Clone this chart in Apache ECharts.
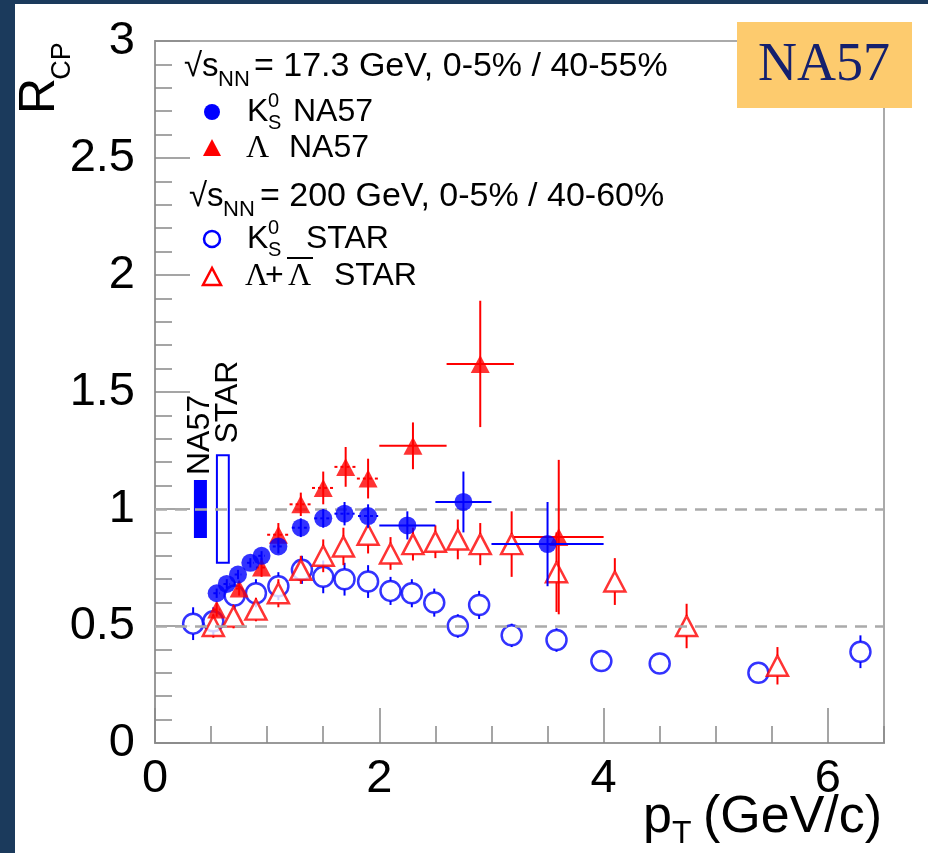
<!DOCTYPE html>
<html>
<head>
<meta charset="utf-8">
<script src="https://cdn.jsdelivr.net/npm/echarts@6/dist/echarts.min.js"></script>
<style>
  html, body { margin: 0; padding: 0; background: #fff; }
  #chart { width: 928px; height: 853px; }
</style>
</head>
<body>
<div id="chart"></div>
<script>
// R_CP vs pT, NA57 (17.3 GeV) and STAR (200 GeV)
const xTicks = [0, 2, 4, 6]
const yTicks = [0, 0.5, 1, 1.5, 2, 2.5, 3]

// K0s NA57, filled blue circles
const k0naX  = [0.55, 0.64, 0.74, 0.85, 0.95, 1.10, 1.30, 1.50, 1.69, 1.90, 2.25, 2.75, 3.50]
const k0naY  = [0.64, 0.68, 0.72, 0.77, 0.80, 0.84, 0.92, 0.96, 0.98, 0.97, 0.93, 1.03, 0.85]
const k0naEx = [0.03, 0.03, 0.03, 0.03, 0.03, 0.05, 0.08, 0.08, 0.09, 0.09, 0.25, 0.25, 0.50]
const k0naEy = [0.02, 0.02, 0.02, 0.02, 0.02, 0.03, 0.04, 0.04, 0.05, 0.05, 0.06, 0.13, 0.18]

// Lambda NA57, filled red triangles
const lanaX  = [0.55, 0.75, 0.95, 1.10, 1.30, 1.50, 1.70, 1.90, 2.30, 2.90, 3.60]
const lanaY  = [0.57, 0.66, 0.75, 0.89, 1.02, 1.09, 1.18, 1.13, 1.27, 1.62, 0.88]
const lanaEx = [0.03, 0.03, 0.05, 0.10, 0.10, 0.10, 0.10, 0.10, 0.30, 0.30, 0.40]
const lanaEy = [0.03, 0.03, 0.04, 0.05, 0.05, 0.07, 0.085, 0.085, 0.10, 0.27, 0.33]

// K0s STAR, open blue circles
const k0stX  = [0.34, 0.52, 0.71, 0.90, 1.10, 1.31, 1.50, 1.69, 1.90, 2.10, 2.29, 2.49, 2.70, 2.89, 3.18, 3.58, 3.98, 4.50, 5.38, 6.29]
const k0stY  = [0.51, 0.52, 0.63, 0.64, 0.67, 0.74, 0.71, 0.70, 0.69, 0.65, 0.64, 0.60, 0.50, 0.59, 0.46, 0.44, 0.35, 0.34, 0.30, 0.39]
const k0stEy = [0.07, 0.06, 0.06, 0.06, 0.06, 0.06, 0.07, 0.07, 0.07, 0.06, 0.06, 0.06, 0.05, 0.06, 0.05, 0.05, 0.04, 0.035, 0.03, 0.07]

// Lambda+antiLambda STAR, open red triangles
const lastX  = [0.52, 0.70, 0.90, 1.10, 1.30, 1.50, 1.68, 1.90, 2.10, 2.30, 2.50, 2.70, 2.90, 3.18, 3.58, 4.10, 4.74, 5.55]
const lastY  = [0.50, 0.54, 0.57, 0.64, 0.74, 0.80, 0.84, 0.89, 0.81, 0.85, 0.86, 0.87, 0.85, 0.85, 0.73, 0.69, 0.50, 0.33]
const lastEy = [0.05, 0.05, 0.05, 0.06, 0.06, 0.07, 0.08, 0.08, 0.07, 0.07, 0.07, 0.085, 0.09, 0.14, 0.17, 0.10, 0.095, 0.08]

// normalisation uncertainty boxes at R_CP = 1
const sysX  = [0.405, 0.605]
const sysDx = [0.058, 0.053]
const sysDy = [0.124, 0.23]

const refLines = [1, 0.5]

const FONT = '"Liberation Sans", Arial, sans-serif'
const SERIF = '"Liberation Serif", "DejaVu Serif", serif'
const BLUE = '#0000ff'
const RED = '#ff0000'

// gap: half size in px of an open marker, so the bar stops at its edge
function errBars(xs, ys, exs, eys, color, z, gap) {
  gap = gap || 0
  return {
    type: 'custom',
    silent: true,
    z: z,
    data: xs.map((x, i) => [x, ys[i], exs ? exs[i] : 0, eys[i]]),
    encode: { x: 0, y: 1 },
    renderItem: function (params, api) {
      const x = api.value(0), y = api.value(1), ex = api.value(2), ey = api.value(3)
      const c = api.coord([x, y])
      const t = api.coord([x, y + ey])
      const b = api.coord([x, y - ey])
      const st = { stroke: color, lineWidth: 2 }
      const kids = []
      if (gap > 0) {
        if (c[1] - t[1] > gap) kids.push({ type: 'line', shape: { x1: c[0], y1: t[1], x2: c[0], y2: c[1] - gap }, style: st })
        if (b[1] - c[1] > gap) kids.push({ type: 'line', shape: { x1: c[0], y1: c[1] + gap, x2: c[0], y2: b[1] }, style: st })
      } else {
        kids.push({ type: 'line', shape: { x1: c[0], y1: t[1], x2: c[0], y2: b[1] }, style: st })
      }
      if (ex > 0) {
        const l = api.coord([x - ex, y])
        const r = api.coord([x + ex, y])
        kids.push({ type: 'line', shape: { x1: l[0], y1: c[1], x2: r[0], y2: c[1] },
          style: ex <= 0.1 ? { stroke: color, lineWidth: 2, lineDash: [3, 3] } : st })
      }
      return { type: 'group', children: kids }
    }
  }
}

function markers(xs, ys, symbol, size, itemStyle, z) {
  return {
    type: 'scatter',
    silent: true,
    z: z,
    symbol: symbol,
    symbolSize: size,
    itemStyle: itemStyle,
    data: xs.map((x, i) => [x, ys[i]])
  }
}

function txt(x, y, s, size, opt) {
  opt = opt || {}
  return {
    type: 'text', x: x, y: y, rotation: opt.rot || 0, z: 100,
    style: {
      text: s, fontSize: size, fontFamily: opt.family || FONT, fill: opt.fill || '#000',
      align: opt.align || 'left', verticalAlign: 'middle',
      textAlign: opt.align || 'left', textVerticalAlign: 'middle'
    }
  }
}

const chart = echarts.init(document.getElementById('chart'))

const legend = [
  // header 1
  txt(184, 67, '\u221As', 33), txt(218, 80, 'NN', 22), txt(254, 67, '= 17.3 GeV, 0-5% / 40-55%', 34),
  { type: 'circle', shape: { cx: 212, cy: 112, r: 8 }, style: { fill: BLUE }, z: 100 },
  txt(247, 112, 'K', 32), txt(268, 101, '0', 20), txt(268, 123, 'S', 20), txt(293, 112, 'NA57', 32),
  { type: 'polygon', shape: { points: [[212, 139], [203, 156], [221, 156]] }, style: { fill: RED }, z: 100 },
  txt(246, 149, '\u039B', 32, { family: SERIF }), txt(289, 148, 'NA57', 32),
  // header 2
  txt(189, 197, '\u221As', 33), txt(223, 210, 'NN', 22), txt(260, 197, '= 200 GeV, 0-5% / 40-60%', 34),
  { type: 'circle', shape: { cx: 212, cy: 239, r: 8 }, style: { fill: '#fff', stroke: BLUE, lineWidth: 2.5 }, z: 100 },
  txt(247, 239, 'K', 32), txt(268, 228, '0', 20), txt(268, 250, 'S', 20), txt(306, 239, 'STAR', 32),
  { type: 'polygon', shape: { points: [[212, 268], [203, 285], [221, 285]] }, style: { fill: '#fff', stroke: RED, lineWidth: 2.5 }, z: 100 },
  txt(245, 277, '\u039B', 32, { family: SERIF }), txt(265, 276, '+', 32),
  txt(288, 277, '\u039B', 32, { family: SERIF }),
  { type: 'line', shape: { x1: 287, y1: 258, x2: 313, y2: 258 }, style: { stroke: '#000', lineWidth: 2 }, z: 100 },
  txt(334, 276, 'STAR', 32)
]

const option = {
  backgroundColor: '#fff',
  animation: false,
  grid: {
    left: 155, top: 41, right: 44, bottom: 110,
    show: true, borderColor: '#aaa', borderWidth: 2, backgroundColor: 'transparent'
  },
  xAxis: [
    {
      type: 'value', min: 0, max: 6.5, interval: 2,
      axisLine: { show: true, lineStyle: { color: '#999', width: 2 } },
      axisTick: { show: true, inside: true, length: 35, lineStyle: { color: '#888', width: 1.5 } },
      axisLabel: {
        show: true, margin: 13, color: '#000', fontSize: 47, fontFamily: FONT,
        showMaxLabel: false,
        formatter: v => (xTicks.indexOf(v) >= 0 ? String(v) : '')
      },
      splitLine: { show: false }
    },
    {
      type: 'value', min: 0, max: 6.5, interval: 0.5, position: 'bottom',
      axisLine: { show: false },
      axisTick: { show: true, inside: true, length: 17, lineStyle: { color: '#888', width: 1.5 } },
      axisLabel: { show: false },
      splitLine: { show: false }
    }
  ],
  yAxis: {
    type: 'value', min: 0, max: 3, interval: 0.5,
    axisLine: { show: true, lineStyle: { color: '#999', width: 2 } },
    axisTick: { show: true, inside: true, length: 35, lineStyle: { color: '#888', width: 1.5 } },
    minorTick: { show: true, splitNumber: 5, length: 17, lineStyle: { color: '#888', width: 1.5 } },
    axisLabel: {
      show: true, margin: 20, color: '#000', fontSize: 47, fontFamily: FONT,
      formatter: v => (yTicks.indexOf(v) >= 0 ? String(v) : '')
    },
    splitLine: { show: false }
  },
  graphic: [
    { type: 'rect', shape: { x: 0, y: 0, width: 15, height: 853 }, style: { fill: '#1b3a5c' }, z: 100 },
    { type: 'rect', shape: { x: 0, y: 0, width: 928, height: 4 }, style: { fill: '#1b3a5c' }, z: 100 },
    { type: 'rect', shape: { x: 737, y: 22, width: 175, height: 86 }, style: { fill: '#fdcb6e' }, z: 100 },
    txt(824, 66, 'NA57', 54, { family: SERIF, fill: '#14206e', align: 'center' }),
    // axis titles
    txt(40, 96, 'R', 50, { rot: Math.PI / 2, align: 'center' }),
    txt(63, 61, 'CP', 27, { rot: Math.PI / 2, align: 'center' }),
    txt(643, 818, 'p', 52), txt(672, 834, 'T', 32), txt(703, 818, '(GeV/c)', 52),
    // box labels
    txt(200, 435, 'NA57', 32, { rot: Math.PI / 2, align: 'center' }),
    txt(228, 402, 'STAR', 32, { rot: Math.PI / 2, align: 'center' })
  ].concat(legend),
  series: [
    {
      type: 'custom', silent: true, z: 2,
      data: sysX.map((x, i) => [x, 1, sysDx[i], sysDy[i], i]),
      encode: { x: 0, y: 1 },
      renderItem: function (params, api) {
        const x = api.value(0), y = api.value(1), dx = api.value(2), dy = api.value(3)
        const p0 = api.coord([x - dx, y + dy])
        const p1 = api.coord([x + dx, y - dy])
        const filled = api.value(4) === 0
        return {
          type: 'rect',
          shape: { x: p0[0], y: p0[1], width: p1[0] - p0[0], height: p1[1] - p0[1] },
          style: filled ? { fill: BLUE } : { fill: '#fff', stroke: BLUE, lineWidth: 2 }
        }
      },
      markLine: {
        silent: true, symbol: 'none', label: { show: false },
        lineStyle: { color: '#aaa', type: [12, 8], width: 2.5 },
        data: refLines.map(v => ({ yAxis: v }))
      }
    },
    errBars(k0stX, k0stY, null, k0stEy, BLUE, 3, 10),
    markers(k0stX, k0stY, 'circle', 20, { color: '#fff', borderColor: BLUE, borderWidth: 2.5 }, 3.5),
    errBars(lastX, lastY, null, lastEy, RED, 4, 10),
    markers(lastX, lastY, 'triangle', [21, 20], { color: '#fff', borderColor: RED, borderWidth: 2.5 }, 4.5),
    errBars(lanaX, lanaY, lanaEx, lanaEy, RED, 5),
    markers(lanaX, lanaY, 'triangle', [19, 18], { color: RED }, 5.5),
    errBars(k0naX, k0naY, k0naEx, k0naEy, BLUE, 6),
    markers(k0naX, k0naY, 'circle', 18, { color: BLUE }, 6.5)
  ]
}

chart.setOption(option, true)
</script>
</body>
</html>
